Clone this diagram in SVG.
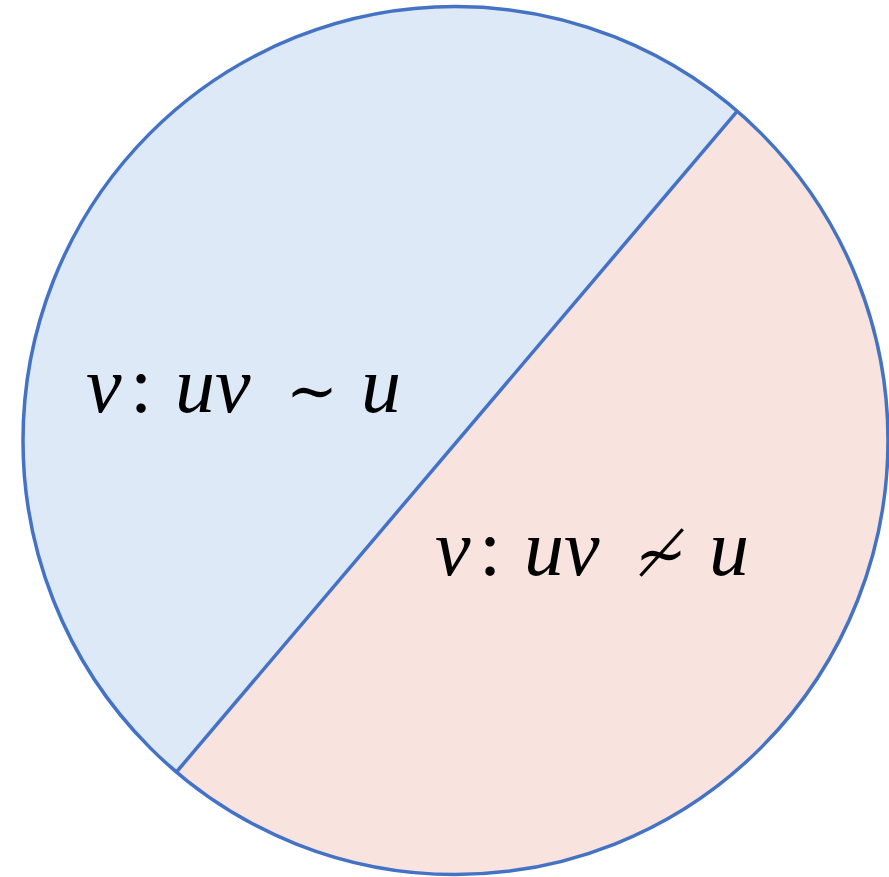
<svg xmlns="http://www.w3.org/2000/svg" width="889" height="877" viewBox="0 0 889 877">
<style>
.lbl{font-family:"Liberation Serif","DejaVu Serif",serif;font-style:italic;font-size:80px;fill:#000}
.op{font-family:"DejaVu Serif","Liberation Serif",serif;font-style:normal;font-size:62px}
.edge{stroke:#4472C4;stroke-width:3.5;fill:none}
</style>
<defs>
<clipPath id="c"><ellipse cx="455.5" cy="440.5" rx="432.5" ry="434"/></clipPath>
</defs>
<rect width="889" height="877" fill="#fff"/>
<g id="regions" clip-path="url(#c)">
<polygon id="blue" points="0,0 889,0 889,-200 1050,-300 737.7,110.7 176,772.5 -200,1220 0,877" fill="#DDE9F6"/>
<polygon id="pink" points="1050,-300 737.7,110.7 176,772.5 -200,1220 1200,1200" fill="#F8E3DF"/>
<polygon points="737.7,110.7 1200,-400 1200,1200" fill="#F8E3DF"/>
</g>
<g id="connectors">
<line class="edge" x1="737.7" y1="110.7" x2="176" y2="772.5"/>
</g>
<g id="circle">
<ellipse class="edge" cx="455.5" cy="440.5" rx="432.5" ry="434"/>
</g>
<g id="label-similar">
<text class="lbl" y="412"><tspan x="86">v</tspan><tspan x="130" font-style="normal">:</tspan><tspan x="175">uv</tspan><tspan class="op" x="286">∼</tspan><tspan x="361">u</tspan></text>
</g>
<g id="label-not-similar">
<text class="lbl" y="575"><tspan x="435">v</tspan><tspan x="479" font-style="normal">:</tspan><tspan x="524">uv</tspan><tspan class="op" x="635">≁</tspan><tspan x="709">u</tspan></text>
</g>
</svg>
